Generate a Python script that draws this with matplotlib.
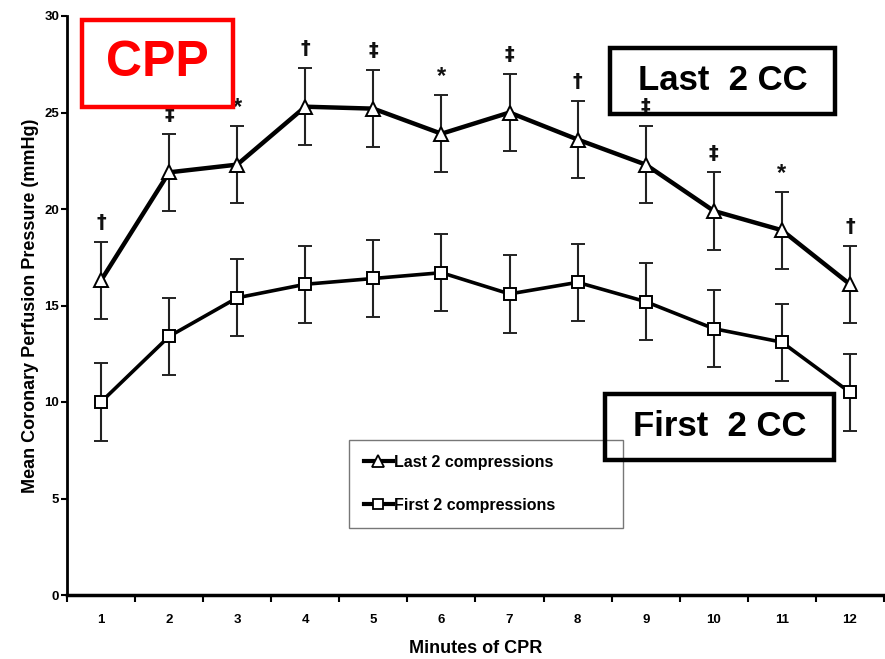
import numpy as np
import matplotlib
matplotlib.use("Agg")
import matplotlib.pyplot as plt
from matplotlib.patches import Rectangle
from matplotlib.lines import Line2D

plt.rcParams['font.family'] = ['Liberation Sans', 'DejaVu Sans']

# Data
minutes = np.arange(1, 13)
last_cc = [16.3, 21.9, 22.3, 25.3, 25.2, 23.9, 25.0, 23.6, 22.3, 19.9, 18.9, 16.1]
last_err = [2.0, 2.0, 2.0, 2.0, 2.0, 2.0, 2.0, 2.0, 2.0, 2.0, 2.0, 2.0]
first_cc = [10.0, 13.4, 15.4, 16.1, 16.4, 16.7, 15.6, 16.2, 15.2, 13.8, 13.1, 10.5]
first_err = [2.0, 2.0, 2.0, 2.0, 2.0, 2.0, 2.0, 2.0, 2.0, 2.0, 2.0, 2.0]
signif = ['†', '‡', '*', '†', '‡', '*', '‡', '†', '‡', '‡', '*', '†']

W, H = 885, 659
fig = plt.figure(figsize=(W / 100, H / 100), dpi=100)
ax = fig.add_axes([67 / W, 1 - 595 / H, 817 / W, 579 / H])

ax.errorbar(minutes, last_cc, yerr=last_err, color='black', lw=3.2,
            marker='^', ms=10, mfc='white', mec='black', mew=1.4,
            ecolor='#222222', elinewidth=1.5, capsize=5, capthick=1.5,
            zorder=3)
ax.errorbar(minutes, first_cc, yerr=first_err, color='black', lw=2.6,
            marker='s', ms=9, mfc='white', mec='black', mew=1.4,
            ecolor='#222222', elinewidth=1.5, capsize=5, capthick=1.5,
            zorder=3)

for x, y, e, s in zip(minutes, last_cc, last_err, signif):
    if s == '*':
        ax.text(x, y + e + 0.35, s, ha='center', va='bottom', fontsize=17,
                fontweight='bold', color='#111111')
    else:
        ax.text(x, y + e + 0.5, s, ha='center', va='bottom', fontsize=14,
                fontweight='bold', family=['DejaVu Sans'], color='#111111')

ax.set_xlim(0.5, 12.5)
ax.set_ylim(0, 30)
ax.spines['top'].set_visible(False)
ax.spines['right'].set_visible(False)
ax.spines['left'].set_linewidth(2)
ax.spines['bottom'].set_linewidth(2.5)

ax.set_yticks(np.arange(0, 31, 5))
ax.tick_params(axis='y', direction='out', length=4, width=1.5,
               labelsize=9.5, pad=1.5)
ax.set_xticks(np.arange(0.5, 12.6, 1))
ax.set_xticklabels([])
ax.set_xticks(minutes, minor=True)
ax.set_xticklabels([str(m) for m in minutes], minor=True)
ax.tick_params(axis='x', which='major', direction='out', length=5, width=1.5)
ax.tick_params(axis='x', which='minor', length=0, labelsize=9.5, pad=14)
for lab in ax.get_yticklabels() + ax.get_xticklabels(minor=True):
    lab.set_fontweight('bold')

ax.set_xlabel('Minutes of CPR', fontsize=13, fontweight='bold', labelpad=10)
ax.set_ylabel('Mean Coronary Perfusion Pressure (mmHg)', fontsize=13,
              fontweight='bold', labelpad=4)

handles = [
    Line2D([], [], color='black', lw=3, marker='^', ms=8, mfc='white',
           mec='black', mew=1.3),
    Line2D([], [], color='black', lw=3, marker='s', ms=7.5, mfc='white',
           mec='black', mew=1.3),
]
leg = ax.legend(handles, ['Last 2 compressions', 'First 2 compressions'],
                loc='upper left', bbox_to_anchor=(0.345, 0.268, 0.336, 0.0),
                mode='expand', fancybox=False, frameon=True, edgecolor='#555555',
                handlelength=1.8, handletextpad=0.05, labelspacing=1.75,
                borderpad=0.95, prop={'weight': 'bold', 'size': 11.5},
                borderaxespad=0)
leg.get_frame().set_linewidth(1.0)
leg._legend_box.align = 'center'

# Annotation boxes (figure pixel positions)
def pix_box(x0, y0, x1, y1, color, text, size):
    fig.patches.append(Rectangle((x0 / W, 1 - y1 / H), (x1 - x0) / W, (y1 - y0) / H,
                                 transform=fig.transFigure, fill=False,
                                 edgecolor=color, lw=3.2, zorder=5))
    fig.text((x0 + x1) / 2 / W, 1 - (y0 + y1) / 2 / H, text, color=color,
             fontsize=size, fontweight='bold', ha='center', va='center')

pix_box(82, 20, 233, 107, '#ff0000', 'CPP', 36)
pix_box(610, 48, 835, 114, 'black', 'Last  2 CC', 25)
pix_box(605, 394, 834, 460, 'black', 'First  2 CC', 25)

fig.savefig('out.png', dpi=100)
